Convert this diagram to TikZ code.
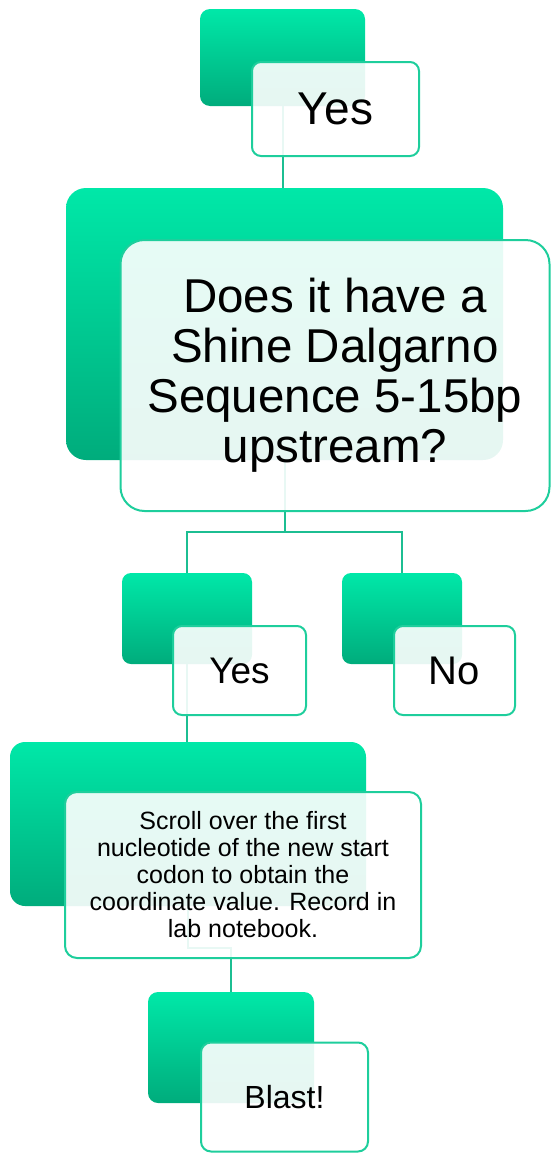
\documentclass[tikz,border=0pt]{standalone}
\usepackage{fontspec}
\setmainfont{Liberation Sans}
\definecolor{gtop}{RGB}{0,232,168}
\definecolor{gbot}{RGB}{0,172,124}
\definecolor{edge}{RGB}{30,206,156}
\definecolor{wire}{RGB}{28,190,146}
\tikzset{
  back/.style={rectangle, inner sep=0pt, outer sep=0pt, top color=gtop, bottom color=gbot, draw=none},
  front/.style={rectangle, inner sep=0pt, outer sep=0pt, draw=edge, line width=2pt, fill=white, fill opacity=0.9, text opacity=1, align=center},
  link/.style={draw=wire, line width=2pt}
}
\begin{document}
\begin{tikzpicture}[x=1pt, y=-1pt]
\useasboundingbox (0,0) rectangle (550,1154);

% coloured back panels
\node[back, rounded corners=10pt, minimum width=165pt, minimum height=97pt] (g1) at (282.5,57.5) {};
\node[back, rounded corners=20pt, minimum width=437pt, minimum height=272pt] (g2) at (284.5,324) {};
\node[back, rounded corners=9pt, minimum width=130pt, minimum height=91pt] (g3) at (187,618.5) {};
\node[back, rounded corners=9pt, minimum width=120pt, minimum height=91pt] (g4) at (402,618.5) {};
\node[back, rounded corners=15pt, minimum width=356pt, minimum height=164pt] (g5) at (188,824) {};
\node[back, rounded corners=10pt, minimum width=166pt, minimum height=111pt] (g6) at (231,1047.5) {};

% connectors between the panels
\coordinate (br) at (284.5,532);
\draw[link] (g1.south) -- (g1.south |- g2.north);
\draw[link] (g2.south) -- (br);
\draw[link] (br) -| (g3.north);
\draw[link] (br) -| (g4.north);
\draw[link] (g3.south) -- (g3.south |- g5.north);
\draw[link] (g5.south) -- ++(0,42) -| (g6.north);

% text cards
\node[front, rounded corners=9pt, minimum width=167pt, minimum height=94pt, font=\fontsize{46}{50}\selectfont] (w1) at (335.5,109) {Yes};
\node[front, rounded corners=24pt, minimum width=429pt, minimum height=271pt, font=\fontsize{47.5}{50}\selectfont] (w2) at (335,375.5) {Does it have a\\Shine Dalgarno\\Sequence 5-15bp\\upstream?};
\node[front, rounded corners=9pt, minimum width=133pt, minimum height=89pt, font=\fontsize{37}{40}\selectfont] (w3) at (239.5,670.5) {Yes};
\node[front, rounded corners=9pt, minimum width=121pt, minimum height=89pt, font=\fontsize{40}{42}\selectfont] (w4) at (454.5,670.5) {No};
\node[front, rounded corners=12pt, minimum width=356pt, minimum height=166pt, font=\fontsize{25}{27}\selectfont] (w5) at (243,875) {Scroll over the first\\nucleotide of the new start\\codon to obtain the\\coordinate value. Record in\\lab notebook.};
\node[front, rounded corners=10pt, minimum width=167pt, minimum height=109pt, font=\fontsize{32}{34}\selectfont] (w6) at (284.5,1097) {Blast!};
\end{tikzpicture}
\end{document}
